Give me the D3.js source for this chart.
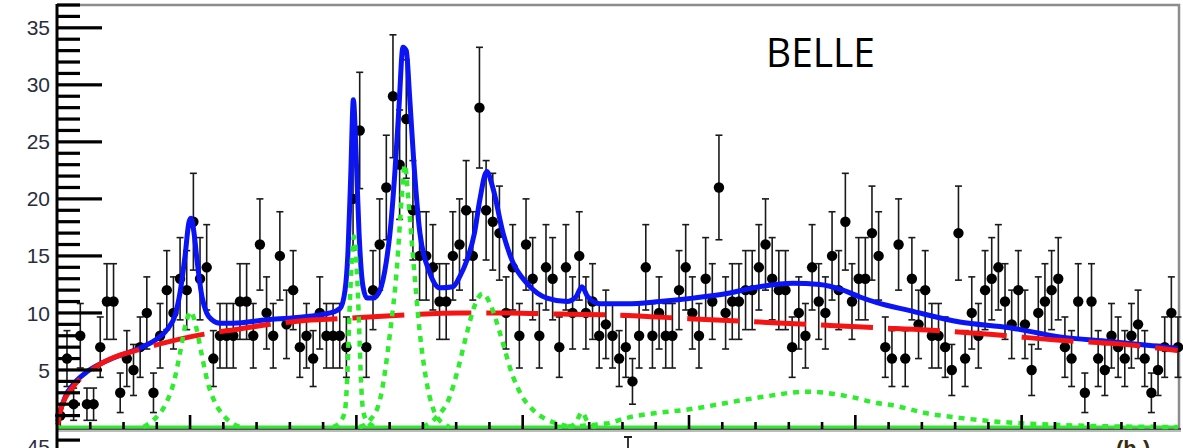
<!DOCTYPE html>
<html>
<head>
<meta charset="utf-8">
<script src="https://cdn.jsdelivr.net/npm/d3@7"></script>
<style>
  body { margin: 0; background: #fff; overflow: hidden; }
  svg { display: block; }
</style>
</head>
<body>
<div id="chart"></div>
<script>
// histogram contents, bin width 0.2 axis units, first bin starts at 0
const counts = [
  1, 6, 2, 8, 2, 2, 7, 11, 11, 3,
  6, 5, 7, 10, 3, 8, 12, 10, 13, 12,
  18, 13, 14, 6, 8, 8, 8, 11, 11, 8,
  16, 10, 8, 15, 9, 12, 7, 8, 6, 10,
  8, 8, 8, 7, 20, 26, 7, 12, 16, 21,
  29, 23, 27, 19, 15, 15, 14, 11, 11, 15,
  16, 19, 15, 28, 19, 18, 17, 10, 14, 8,
  16, 13, 8, 14, 13, 7, 14,
  10, 15, 10, 11, 8, 9, 8, 6, 7, 4,
  8, 14, 8, 10, 8, 8, 12, 14, 10, 8,
  13, 11, 21, 10, 11, 11, 12, 12, 14, 16,
  13, 12, 12, 7, 10, 8, 14, 11, 10, 15,
  12, 18, 11, 13, 13, 17, 15, 7, 6, 16,
  6, 13, 9, 12, 8, 8, 7, 5, 17, 6,
  10, 8, 12, 13, 14, 11, 9, 12, 9, 5,
  10, 11, 12, 13, 7, 6, 11, 3, 11, 6,
  5, 8, 7, 6, 8, 9, 6, 3, 5, 7,
  10, 7
];
const binWidth = 0.2;

// total fit (blue)
const totalFit = [
  [0.02, 0.5], [0.09, 1.3], [0.24, 2.6], [0.54, 3.9], [0.93, 4.9], [1.65, 6.0],
  [2.55, 7.0], [3.04, 7.8], [3.35, 8.7], [3.55, 9.8], [3.70, 11.8], [3.85, 15.0],
  [3.97, 18.0], [4.03, 18.3], [4.12, 17.0], [4.21, 14.6], [4.36, 11.4], [4.50, 10.0],
  [4.66, 9.4], [4.90, 9.1], [5.29, 9.1], [6.31, 9.4], [7.21, 9.6], [8.21, 10.0],
  [8.51, 10.4], [8.66, 12.0], [8.75, 15.5], [8.83, 22.0], [8.91, 28.7], [8.99, 24.0],
  [9.08, 17.0], [9.20, 12.3], [9.32, 11.3], [9.50, 11.3], [9.71, 12.0], [9.90, 14.5],
  [10.01, 17.0], [10.15, 22.0], [10.28, 28.0], [10.40, 33.3], [10.50, 33.0], [10.60, 29.0],
  [10.72, 23.5], [10.91, 17.0], [11.21, 13.5], [11.51, 12.2], [11.90, 12.3], [12.11, 13.2],
  [12.32, 14.6], [12.55, 17.0], [12.71, 19.9], [12.92, 22.4], [13.10, 21.0], [13.41, 17.0],
  [13.71, 14.4], [14.13, 12.6], [14.73, 11.3], [15.33, 11.0], [15.60, 11.4], [15.78, 12.3],
  [15.96, 11.4], [16.32, 10.8], [17.13, 10.8], [18.12, 11.0], [19.12, 11.3], [20.14, 11.7],
  [21.13, 12.3], [22.12, 12.6], [22.93, 12.5], [23.63, 12.0], [24.14, 11.4], [24.65, 10.9],
  [25.64, 10.2], [27.14, 9.2], [28.64, 8.7], [30.15, 7.9], [31.65, 7.5], [33.69, 6.9]
];

// background (red dashed)
const background = [
  [0.02, 0.2], [0.09, 1.3], [0.24, 2.5], [0.45, 3.4], [0.69, 4.2], [0.99, 4.9],
  [1.29, 5.5], [1.89, 6.3], [2.49, 6.8], [3.25, 7.4], [4.00, 7.9], [4.54, 8.2],
  [5.50, 8.6], [6.40, 9.0], [7.30, 9.3], [8.51, 9.5], [10.31, 9.8], [12.11, 10.0],
  [13.32, 10.0], [15.12, 9.9], [16.92, 9.8], [18.99, 9.5], [21.13, 9.2], [23.23, 8.9],
  [24.65, 8.7], [26.15, 8.5], [28.13, 8.1], [30.15, 7.6], [32.25, 7.2], [33.69, 6.7]
];

// signal components (green dotted)
const signal1 = [[2.6, 0], [3.0, 0.9], [3.3, 2.2], [3.5, 3.8], [3.7, 6.5], [3.85, 8.8],
  [4.02, 10.1], [4.18, 8.8], [4.34, 6.5], [4.54, 3.8], [4.74, 2.2], [5.04, 0.9], [5.5, 0]];
const signal2 = [[8.3, 0], [8.55, 0.6], [8.66, 1.5], [8.72, 4], [8.78, 9.0], [8.85, 14],
  [8.93, 16.7], [9.01, 14], [9.08, 9.0], [9.14, 4], [9.2, 1.5], [9.32, 0.5], [9.6, 0]];
const signal3 = [[9.1, 0], [9.41, 0.6], [9.71, 2.4], [10.01, 8.2], [10.22, 14], [10.36, 20],
  [10.46, 23], [10.56, 20], [10.70, 15], [10.91, 8.2], [11.12, 3.8], [11.42, 0.9], [11.8, 0]];
const signal4 = [[11.0, 0], [11.42, 0.9], [11.8, 2.6], [12.02, 4.7], [12.32, 8.2], [12.55, 10.6],
  [12.80, 11.7], [13.05, 10.6], [13.32, 8.2], [13.71, 4.4], [14.0, 2.6], [14.31, 1.5],
  [15.03, 0.3], [15.5, 0]];
const signal5 = [[15.4, 0], [15.6, 0.4], [15.78, 1.3], [15.96, 0.4], [16.2, 0]];
const signal6 = [[15.0, 0], [16.5, 0.3], [17.13, 0.8], [19.12, 1.6], [21.13, 2.6], [22.54, 3.1],
  [23.93, 2.6], [24.65, 2.1], [25.13, 1.9], [26.15, 1.2], [27.14, 0.8], [28.13, 0.5],
  [29.16, 0.3], [31.0, 0.1], [33.69, 0]];

const yMajor = [5, 10, 15, 20, 25, 30, 35];
const yTicks = d3.range(1, 38);
const xMajor = [4, 9, 14, 19, 24, 29];
const xTicks = d3.range(1, 34);

const width = 1183, height = 448;
const x = d3.scaleLinear().domain([0, 33.7]).range([57, 1178]);
const y = d3.scaleLinear().domain([0, 37]).range([427, 5]);

const svg = d3.select("#chart").append("svg")
  .attr("width", width).attr("height", height);

const plotBottom = y(0) + 2;

// frame
svg.append("path")
  .attr("d", `M57,5H1179V${plotBottom}`)
  .attr("fill", "none").attr("stroke", "#8c8c8c").attr("stroke-width", 2.5);
svg.append("path")
  .attr("d", `M57,${plotBottom + 1.5}H1181`)
  .attr("fill", "none").attr("stroke", "#bbb").attr("stroke-width", 3);
svg.append("path")
  .attr("d", `M57,${plotBottom}H1181`)
  .attr("fill", "none").attr("stroke", "#333").attr("stroke-width", 1.5);

svg.append("g").selectAll("text").data(yMajor).join("text")
  .attr("x", 50).attr("y", d => y(d)).attr("dy", "0.36em")
  .attr("text-anchor", "end")
  .attr("font-family", "Liberation Sans, Arial, sans-serif")
  .attr("font-size", "21px").attr("fill", "#2a2d3e")
  .text(d => d);

// remnants of the panel below
svg.append("text").attr("x", 50).attr("y", 454).attr("text-anchor", "end")
  .attr("font-family", "Liberation Sans, Arial, sans-serif")
  .attr("font-size", "21px").attr("fill", "#2a2d3e").text("45");
svg.append("text").attr("x", 1116).attr("y", 456)
  .attr("font-family", "Liberation Sans, Arial, sans-serif").attr("font-weight", "bold")
  .attr("font-size", "22px").attr("fill", "#3a2a10").text("(h )");
svg.append("path").attr("d", "M624,437h8M628,437v11")
  .attr("fill", "none").attr("stroke", "#222").attr("stroke-width", 1.8);

// data points
const pts = counts.map((c, i) => ({ u: (i + 0.5) * binWidth, v: c, e: Math.sqrt(c) }));
const gp = svg.append("g");
gp.selectAll(".eb").data(pts).join("line")
  .attr("x1", d => x(d.u)).attr("x2", d => x(d.u))
  .attr("y1", d => y(d.v + d.e)).attr("y2", d => y(Math.max(0, d.v - d.e)))
  .attr("stroke", "#1a1a1a").attr("stroke-width", 1.6);
gp.selectAll(".capT").data(pts).join("line")
  .attr("x1", d => x(d.u) - 3.5).attr("x2", d => x(d.u) + 3.5)
  .attr("y1", d => y(d.v + d.e)).attr("y2", d => y(d.v + d.e))
  .attr("stroke", "#1a1a1a").attr("stroke-width", 1.6);
gp.selectAll(".capB").data(pts).join("line")
  .attr("x1", d => x(d.u) - 3.5).attr("x2", d => x(d.u) + 3.5)
  .attr("y1", d => y(Math.max(0, d.v - d.e))).attr("y2", d => y(Math.max(0, d.v - d.e)))
  .attr("stroke", "#1a1a1a").attr("stroke-width", 1.6);
gp.selectAll("circle").data(pts).join("circle")
  .attr("cx", d => x(d.u)).attr("cy", d => y(d.v)).attr("r", 5.2)
  .attr("fill", "#000");

const line = d3.line().x(d => x(d[0])).y(d => y(d[1])).curve(d3.curveMonotoneX);

// fits
svg.append("path").attr("d", line(totalFit))
  .attr("fill", "none").attr("stroke", "#0a14f5").attr("stroke-width", 5)
  .attr("stroke-linejoin", "round");
svg.append("path").attr("d", line(background))
  .attr("fill", "none").attr("stroke", "#f51414").attr("stroke-width", 5)
  .attr("stroke-dasharray", "52,15");

// green baseline + components
svg.append("path").attr("d", `M${x(0)},${y(0)}H1178`)
  .attr("fill", "none").attr("stroke", "#2fe82f").attr("stroke-width", 3);
[signal1, signal2, signal3, signal4, signal5, signal6].forEach(s => {
  svg.append("path").attr("d", line(s))
    .attr("fill", "none").attr("stroke", "#2fec2f").attr("stroke-width", 4.5)
    .attr("stroke-dasharray", "6,6");
});

// axis ticks drawn last, thick so they read like the original
const tickG = svg.append("g").attr("fill", "#000");
tickG.selectAll("rect.yt").data(yTicks).join("rect").attr("class", "yt")
  .attr("x", 57).attr("y", d => y(d) - 1.6)
  .attr("width", d => yMajor.includes(d) ? 45 : 23).attr("height", 3.2);
tickG.selectAll("rect.xt").data(xTicks).join("rect").attr("class", "xt")
  .attr("x", d => x(d) - 1.3).attr("width", 2.6)
  .attr("y", d => plotBottom - (xMajor.includes(d) ? 14 : 7))
  .attr("height", d => xMajor.includes(d) ? 14 : 7);
tickG.append("rect").attr("x", 57).attr("y", 438.5).attr("width", 23).attr("height", 3.2);
// y axis line
tickG.append("rect").attr("x", 55.5).attr("y", 4).attr("width", 3).attr("height", height - 4);

// label
svg.append("text").attr("x", 766).attr("y", 67)
  .attr("font-family", "Open Sans, sans-serif").attr("font-size", "40px")
  .attr("textLength", 109).attr("lengthAdjust", "spacingAndGlyphs")
  .attr("fill", "#000").text("BELLE");
</script>
</body>
</html>
